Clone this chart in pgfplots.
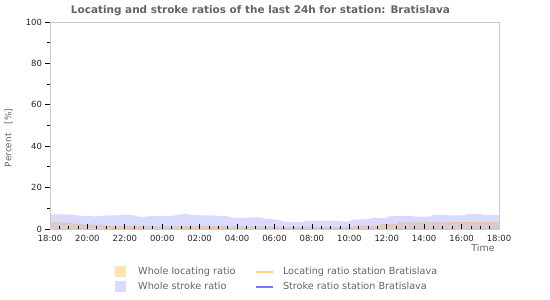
\documentclass[border=0pt]{standalone}
\usepackage{fontspec}
\setmainfont{DejaVu Sans}
\usepackage{pgfplots}
\pgfplotsset{compat=1.18}
\definecolor{strokefill}{RGB}{218,218,255}
\definecolor{locfill}{RGB}{221,202,202}
\definecolor{loclegend}{RGB}{255,226,178}
\definecolor{locline}{RGB}{240,192,140}
\definecolor{loclegline}{RGB}{255,208,128}
\definecolor{strokeline}{RGB}{120,120,255}
\definecolor{framegrey}{RGB}{204,204,204}
\definecolor{textgrey}{RGB}{100,100,100}
\begin{document}
\begin{tikzpicture}
\useasboundingbox (0,0) rectangle (550bp,300bp);
\begin{axis}[
  at={(50bp,71bp)}, anchor=south west,
  scale only axis, width=449bp, height=207bp,
  xmin=0, xmax=24, ymin=0, ymax=100,
  axis on top,
  axis line style={framegrey},
  xtick={0,2,...,24},
  xticklabels={18:00,20:00,22:00,00:00,02:00,04:00,06:00,08:00,10:00,12:00,14:00,16:00,18:00},
  minor x tick num=3,
  ytick={0,20,...,100}, minor y tick num=1,
  xtick pos=bottom, ytick pos=left,
  tick align=outside,
  major tick length=4.5bp, minor tick length=3bp,
  tick style={black, line width=0.8bp},
  major x tick style={yshift=4.5bp},
  minor x tick style={yshift=3bp},
  /pgf/number format/assume math mode=true,
  ticklabel style={font=\fontsize{8.5}{10}\selectfont, text=black!85},
  xticklabel style={yshift=1.5bp},
  title={Locating and stroke ratios of the last 24h for station: Bratislava},
  title style={font=\bfseries\fontsize{10.5}{12}\selectfont, text=textgrey, xshift=-14bp, yshift=-3bp},
  ylabel={Percent\quad[\%]},
  xlabel={Time},
  every axis y label/.style={at={(axis description cs:-0.0924,0.44)}, rotate=90, anchor=center, font=\fontsize{9}{11}\selectfont, text=textgrey},
  every axis x label/.style={at={(axis description cs:0.998,-0.092)}, anchor=east, font=\fontsize{9.5}{11}\selectfont, text=textgrey},
  legend columns=2,
  legend cell align=left,
  legend style={at={(0.1448,-0.1787)}, anchor=north west, draw=none, fill=none,
    inner sep=0pt, row sep=4bp, column sep=0pt,
    nodes={inner sep=0pt},
    font=\fontsize{9.7}{11}\selectfont, text=textgrey},
]
\addplot[fill=strokefill, draw=none, forget plot] coordinates {
(0,7.1) (0.5,7.1) (1,7.0) (1.3,6.8) (1.6,6.4) (2,6.3) (2.4,6.1) (2.8,6.4)
(3.2,6.6) (3.6,6.6) (4,6.9) (4.4,6.8) (4.7,6.0) (5,5.8) (5.3,6.2) (6,6.3)
(6.5,6.3) (6.9,7.0) (7.2,7.3) (7.5,6.9) (8,6.6) (8.6,6.6) (9,6.3) (9.5,6.2)
(9.7,5.5) (10.3,5.3) (10.6,5.6) (11.2,5.6) (11.5,5.0) (12,4.6) (12.3,4.3)
(12.5,3.5) (13.5,3.4) (13.7,4.0) (15.3,4.0) (15.5,3.7) (16,3.7) (16.2,4.6)
(17,4.8) (17.2,5.3) (18,5.4) (18.2,6.2) (19.3,6.4) (19.5,6.0) (20.3,6.0)
(20.5,6.8) (21,6.8) (21.3,6.6) (22.1,6.6) (22.3,7.2) (23,7.2) (23.2,6.8) (24,6.7)
} \closedcycle;
\addplot[fill=locfill, draw=none, forget plot] coordinates {
(0,2.9) (1,2.9) (1.2,2.5) (1.6,2.3) (1.8,1.8) (2.8,1.8) (3,1.2) (4.9,1.1)
(5.1,1.0) (6.9,1.0) (7.2,1.4) (7.8,1.4) (8,1.1) (11.8,1.0) (12,0.8) (15,0.8)
(15.1,0.3) (15.3,0.8) (16.2,0.8) (16.4,1.4) (17.5,1.4) (17.7,2.1) (18.5,2.1)
(18.7,2.9) (20,3.0) (21,2.9) (22,3.1) (23,3.0) (24,3.0)
} \closedcycle;
\addplot[locline, line width=0.6bp, forget plot] coordinates {
(0,2.9) (1,2.9) (1.2,2.5) (1.6,2.3) (1.8,1.8) (2.8,1.8) (3,1.2) (4.9,1.1)
(5.1,1.0) (6.9,1.0) (7.2,1.4) (7.8,1.4) (8,1.1) (11.8,1.0) (12,0.8) (15,0.8)
(15.1,0.3) (15.3,0.8) (16.2,0.8) (16.4,1.4) (17.5,1.4) (17.7,2.1) (18.5,2.1)
(18.7,2.9) (20,3.0) (21,2.9) (22,3.1) (23,3.0) (24,3.0)
};
\addlegendimage{legend image code/.code={\path[fill=loclegend, draw=none] (0bp,-5.5bp) rectangle (11bp,5.5bp);}}
\addlegendentry{\makebox[129bp][l]{\hspace*{12bp}Whole locating ratio}}
\addlegendimage{legend image code/.code={\draw[draw=loclegline, line width=1.8bp] (0bp,0bp) -- (17bp,0bp);}}
\addlegendentry{\makebox[200bp][l]{\hspace*{9bp}Locating ratio station Bratislava}}
\addlegendimage{legend image code/.code={\path[fill=strokefill, draw=none] (0bp,-5.5bp) rectangle (11bp,5.5bp);}}
\addlegendentry{\makebox[129bp][l]{\hspace*{12bp}Whole stroke ratio}}
\addlegendimage{legend image code/.code={\draw[draw=strokeline, line width=1.8bp] (0bp,0bp) -- (17bp,0bp);}}
\addlegendentry{\makebox[200bp][l]{\hspace*{9bp}Stroke ratio station Bratislava}}
\end{axis}
\end{tikzpicture}
\end{document}
